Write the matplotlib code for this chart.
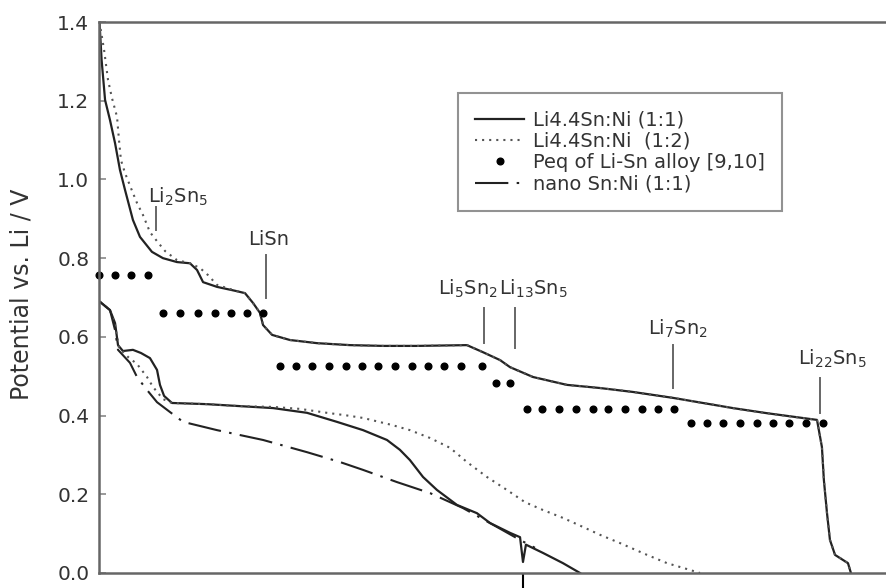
import matplotlib
matplotlib.use("Agg")
import matplotlib.pyplot as plt

plt.rcParams['font.family'] = ['DejaVu Sans']
plt.rcParams['mathtext.default'] = 'regular'

# ---------------- data (x: Li per Sn, y: potential vs Li / V) ----------------
upper_solid_x = [0.003, 0.016, 0.037, 0.067, 0.098, 0.128, 0.159, 0.207, 0.250, 0.323,
                 0.390, 0.476, 0.555, 0.598, 0.635, 0.720, 0.842, 0.891, 0.940, 0.982,
                 1.001, 1.056, 1.165, 1.330, 1.531, 1.733, 1.940, 2.245, 2.343, 2.447,
                 2.508, 2.648, 2.855, 3.057, 3.258, 3.502, 3.868, 4.076, 4.381, 4.411,
                 4.423, 4.442, 4.460, 4.491, 4.570, 4.588]
upper_solid_y = [1.400, 1.303, 1.202, 1.151, 1.092, 1.024, 0.973, 0.897, 0.854, 0.816,
                 0.800, 0.790, 0.787, 0.770, 0.739, 0.727, 0.716, 0.711, 0.686, 0.661,
                 0.630, 0.605, 0.592, 0.584, 0.579, 0.577, 0.577, 0.579, 0.561, 0.541,
                 0.523, 0.498, 0.478, 0.470, 0.460, 0.445, 0.419, 0.406, 0.389, 0.320,
                 0.236, 0.152, 0.084, 0.046, 0.025, 0.000]

upper_dot_x = [0.003, 0.031, 0.055, 0.079, 0.110, 0.122, 0.134, 0.159, 0.195, 0.232,
               0.268, 0.311, 0.354, 0.403, 0.476, 0.555, 0.616, 0.665, 0.720, 0.842,
               0.891, 0.940, 0.982, 1.001, 1.056, 1.165, 1.330, 1.531, 1.733, 1.940,
               2.245, 2.343, 2.447, 2.508, 2.648, 2.855, 3.057, 3.258, 3.502, 3.868,
               4.076, 4.381, 4.411, 4.423, 4.442, 4.460, 4.491, 4.570, 4.588]
upper_dot_y = [1.400, 1.329, 1.253, 1.207, 1.159, 1.100, 1.049, 1.016, 0.978, 0.940,
               0.910, 0.866, 0.843, 0.818, 0.795, 0.787, 0.775, 0.757, 0.732, 0.716,
               0.711, 0.686, 0.661, 0.630, 0.605, 0.592, 0.584, 0.579, 0.577, 0.577,
               0.579, 0.561, 0.541, 0.523, 0.498, 0.478, 0.470, 0.460, 0.445, 0.419,
               0.406, 0.389, 0.320, 0.236, 0.152, 0.084, 0.046, 0.025, 0.000]

lower_solid_x = [0.006, 0.067, 0.098, 0.116, 0.146, 0.207, 0.256, 0.311, 0.354, 0.372,
                 0.397, 0.445, 0.659, 0.860, 1.062, 1.269, 1.452, 1.611, 1.757, 1.836,
                 1.897, 1.977, 2.062, 2.184, 2.306, 2.386, 2.508, 2.569, 2.587, 2.605,
                 2.709, 2.831, 2.935]
lower_solid_y = [0.689, 0.668, 0.635, 0.579, 0.564, 0.567, 0.559, 0.546, 0.516, 0.478,
                 0.450, 0.432, 0.429, 0.424, 0.419, 0.407, 0.384, 0.363, 0.338, 0.313,
                 0.287, 0.244, 0.211, 0.173, 0.152, 0.127, 0.102, 0.091, 0.028, 0.072,
                 0.051, 0.025, 0.000]

lower_dot_x = [0.006, 0.067, 0.098, 0.122, 0.177, 0.232, 0.293, 0.329, 0.390, 0.445,
               0.659, 0.860, 1.062, 1.226, 1.391, 1.501, 1.611, 1.788, 1.897, 2.020,
               2.142, 2.245, 2.367, 2.489, 2.599, 2.709, 2.831, 2.953, 3.057, 3.179,
               3.344, 3.466, 3.588, 3.667]
lower_dot_y = [0.689, 0.668, 0.630, 0.572, 0.549, 0.531, 0.498, 0.473, 0.442, 0.432,
               0.429, 0.424, 0.422, 0.417, 0.407, 0.401, 0.394, 0.376, 0.363, 0.343,
               0.318, 0.282, 0.244, 0.211, 0.180, 0.160, 0.140, 0.117, 0.097, 0.076,
               0.046, 0.025, 0.010, 0.000]

nano_x = [0.006, 0.067, 0.098, 0.116, 0.189, 0.232, 0.293, 0.354, 0.433, 0.513,
          0.720, 1.001, 1.269, 1.470, 1.611, 1.818, 2.020, 2.221, 2.428, 2.569, 2.660]
nano_y = [0.689, 0.668, 0.617, 0.567, 0.534, 0.498, 0.465, 0.434, 0.409, 0.384,
          0.363, 0.338, 0.307, 0.282, 0.262, 0.231, 0.203, 0.165, 0.117, 0.084, 0.064]

# equilibrium potentials of Li-Sn alloys (dots)
peq_x = [0.000, 0.098, 0.195, 0.299,
         0.390, 0.494, 0.604, 0.708, 0.805, 0.903, 1.001,
         1.104, 1.202, 1.300, 1.403, 1.507, 1.605, 1.702, 1.806, 1.910, 2.007, 2.105,
         2.209, 2.337,
         2.422, 2.508,
         2.611, 2.703, 2.807, 2.910, 3.014, 3.106, 3.209, 3.313, 3.411, 3.508,
         3.612, 3.710, 3.807, 3.911, 4.015, 4.112, 4.210, 4.314, 4.417]
peq_y = [0.757] * 4 + [0.661] * 7 + [0.526] * 13 + [0.483] * 2 + [0.417] * 10 + [0.381] * 9

# phase labels: (text, text x, text baseline y, marker x, marker y0, marker y1)
phase_labels = [r'Li$_2$Sn$_5$', 'LiSn', r'Li$_5$Sn$_2$', r'Li$_{13}$Sn$_5$',
                r'Li$_7$Sn$_2$', r'Li$_{22}$Sn$_5$']
phase_text_x = [0.299, 0.909, 2.068, 2.440, 3.350, 4.265]
phase_text_y = [0.940, 0.833, 0.706, 0.706, 0.605, 0.528]
phase_mark_x = [0.348, 1.019, 2.349, 2.538, 3.502, 4.399]
phase_mark_y0 = [0.871, 0.699, 0.584, 0.572, 0.470, 0.406]
phase_mark_y1 = [0.930, 0.808, 0.673, 0.673, 0.579, 0.495]

legend_labels = ['Li4.4Sn:Ni (1:1)', 'Li4.4Sn:Ni  (1:2)', 'Peq of Li-Sn alloy [9,10]',
                 'nano Sn:Ni (1:1)']
y_ticks = [0.0, 0.2, 0.4, 0.6, 0.8, 1.0, 1.2, 1.4]
x_tick_marks = [2.587]

# ---------------- figure ----------------
fig = plt.figure(figsize=(8.86, 5.88), dpi=100)
ax = fig.add_axes([99 / 886, 15 / 588, 787 / 886, 551 / 588])

line_col = '#222222'
dot_ls = (0, (1.0, 2.4))
dashdot_ls = (0, (16, 4, 1.2, 4))

h1, = ax.plot(upper_solid_x, upper_solid_y, color=line_col, lw=1.6, label=legend_labels[0])
h2, = ax.plot(upper_dot_x, upper_dot_y, color='#555555', lw=1.5, ls=dot_ls,
              label=legend_labels[1])
ax.plot(lower_solid_x, lower_solid_y, color=line_col, lw=1.6)
ax.plot(lower_dot_x, lower_dot_y, color='#555555', lw=1.5, ls=dot_ls)
h3, = ax.plot(peq_x, peq_y, ls='none', marker='o', ms=4.8, color='black',
              label=legend_labels[2], clip_on=False)
h4, = ax.plot(nano_x, nano_y, color=line_col, lw=1.5, ls=dashdot_ls,
              label=legend_labels[3])

for t, tx, ty, mx, y0, y1 in zip(phase_labels, phase_text_x, phase_text_y,
                                  phase_mark_x, phase_mark_y0, phase_mark_y1):
    ax.text(tx, ty, t, fontsize=14, color='#333333', ha='left', va='baseline')
    ax.plot([mx, mx], [y0, y1], color='#666666', lw=1.4)

ax.set_xlim(0, 4.802)
ax.set_ylim(0, 1.4)
ax.set_yticks(y_ticks)
ax.set_yticklabels([f'{v:.1f}' for v in y_ticks], fontsize=14.5, color='#333333')
ax.set_xticks(x_tick_marks)
ax.set_xticklabels([''] * len(x_tick_marks))
ax.tick_params(axis='y', direction='in', length=5, width=1.2, color='#888888', pad=7)
ax.tick_params(axis='x', direction='out', length=11, width=1.5, color='black')

for s in ['left', 'top', 'bottom']:
    ax.spines[s].set_color('#666666')
    ax.spines[s].set_linewidth(1.8)
ax.spines['right'].set_visible(False)

ax.set_ylabel('Potential vs. Li / V', fontsize=17, color='#333333')
ax.yaxis.set_label_coords(-0.083, 0.505)

leg = ax.legend(handles=[h1, h2, h3, h4], loc='upper left',
                bbox_to_anchor=(0.456, 0.871), borderaxespad=0, fontsize=14,
                frameon=True, fancybox=False, numpoints=1, handlelength=2.5,
                handletextpad=0.45, labelspacing=0.12, borderpad=0.9)
leg.get_frame().set_edgecolor('#777777')
leg.get_frame().set_linewidth(1.5)
for txt in leg.get_texts():
    txt.set_color('#333333')

fig.savefig('out.png', dpi=100)
